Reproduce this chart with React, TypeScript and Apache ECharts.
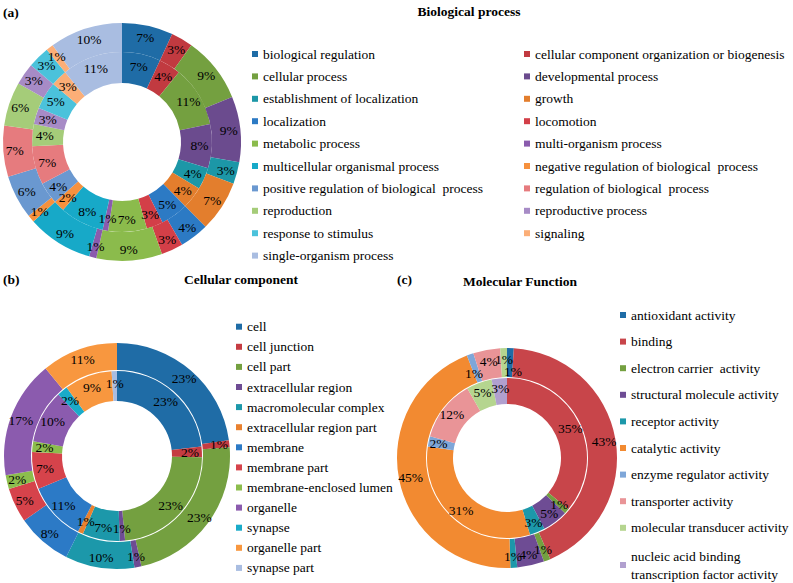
import React, { useEffect, useRef } from "react";
import * as echarts from "echarts";

const bpNames = [
  "biological regulation",
  "cellular component organization or biogenesis",
  "cellular process",
  "developmental process",
  "establishment of localization",
  "growth",
  "localization",
  "locomotion",
  "metabolic process",
  "multi-organism process",
  "multicellular organismal process",
  "negative regulation of biological  process",
  "positive regulation of biological  process",
  "regulation of biological  process",
  "reproduction",
  "reproductive process",
  "response to stimulus",
  "signaling",
  "single-organism process",
];
const bpOuter = [7, 3, 9, 9, 3, 7, 4, 3, 9, 1, 9, 1, 6, 7, 6, 3, 3, 1, 10];
const bpInner = [7, 4, 11, 8, 4, 4, 5, 3, 7, 1, 8, 2, 4, 7, 4, 3, 5, 3, 11];
const bpColors = [
  "#1f6ca6", "#c13a40", "#74a040", "#6b4b8e", "#1c97a7", "#e37e2d", "#2c7ac4",
  "#d33f48", "#8bbb4c", "#8a5bad", "#17a9c8", "#f6913e", "#6a98d0", "#e67b7e",
  "#a5cc79", "#a78bc6", "#4bc2db", "#fbae77", "#a9bde1",
];

const ccNames = [
  "cell",
  "cell junction",
  "cell part",
  "extracellular region",
  "macromolecular complex",
  "extracellular region part",
  "membrane",
  "membrane part",
  "membrane-enclosed lumen",
  "organelle",
  "synapse",
  "organelle part",
  "synapse part",
];
const ccOuter = [23, 1, 23, 1, 10, 0, 8, 5, 2, 17, 0, 11, 0];
const ccInner = [23, 2, 23, 1, 7, 1, 11, 7, 2, 10, 2, 9, 1];
const ccColors = [
  "#1f6ca6", "#c53c42", "#74a040", "#6e4c94", "#1c98aa", "#e9812f", "#2c7ac6",
  "#d6434b", "#8cbd4d", "#8b5bae", "#1aabc9", "#f8973f", "#a9bde1",
];

const mfNames = [
  "antioxidant activity",
  "binding",
  "electron carrier  activity",
  "structural molecule activity",
  "receptor activity",
  "catalytic activity",
  "enzyme regulator activity",
  "transporter activity",
  "molecular transducer activity",
  "nucleic acid binding transcription factor activity",
];
const mfOuter = [1, 43, 1, 4, 1, 45, 1, 4, 1, 0];
const mfInner = [0, 35, 1, 5, 3, 31, 2, 12, 5, 3];
const mfColors = [
  "#1f6ca6", "#c8454a", "#74a040", "#6e4c94", "#1c98aa", "#f28a31", "#7ea6d8",
  "#e99497", "#b5d58f", "#b1a0cf",
];

const FONT = "Liberation Serif";

function buildData(
  names: string[],
  values: number[],
  colors: string[],
  offsets: Record<number, number[]> = {}
) {
  return names.map((n, i) => {
    const item: any = { name: n, value: values[i], itemStyle: { color: colors[i] } };
    if (offsets[i]) item.label = { offset: offsets[i] };
    return item;
  });
}

function pieSeries(
  names: string[],
  values: number[],
  colors: string[],
  center: number[],
  radius: number[],
  offsets: Record<number, number[]> = {}
) {
  return {
    type: "pie",
    center,
    radius,
    startAngle: 90,
    clockwise: true,
    avoidLabelOverlap: false,
    selectedMode: false,
    silent: true,
    minShowLabelAngle: 0,
    labelLayout: { hideOverlap: false },
    label: {
      show: true,
      position: "inside",
      color: "#000",
      fontFamily: FONT,
      fontSize: 13.5,
      overflow: "none",
      formatter: (p: any) => (p.value ? p.value + "%" : ""),
    },
    labelLine: { show: false },
    emphasis: { disabled: true },
    data: buildData(names, values, colors, offsets),
  };
}

const legendText = { fontFamily: FONT, fontSize: 13.5, color: "#000", lineHeight: 16 };

function txt(text: string, x: number, y: number, align: string) {
  return {
    type: "text",
    x,
    y,
    style: {
      text,
      fontFamily: FONT,
      fontSize: 13.5,
      fontWeight: "bold",
      fill: "#000",
      textAlign: align,
      textVerticalAlign: "middle",
      align,
      verticalAlign: "middle",
    },
  };
}

function legendBase(left: number, top: number, gap: number) {
  return {
    orient: "vertical",
    left,
    top,
    padding: 0,
    itemWidth: 6,
    itemHeight: 6,
    itemGap: gap,
    icon: "rect",
    selectedMode: false,
    textStyle: legendText,
  };
}

export default function App() {
  const ref = useRef<HTMLDivElement>(null);
  useEffect(() => {
    document.body.style.margin = "0";
    const chart = echarts.init(ref.current!, null, { renderer: "svg" });
    const option = {
      animation: false,
      backgroundColor: "#ffffff",
      graphic: [
        txt("(a)", 3, 12, "left"),
        txt("Biological process", 469, 11, "center"),
        txt("(b)", 3, 279, "left"),
        txt("Cellular component", 241, 279, "center"),
        txt("(c)", 397, 279, "left"),
        txt("Molecular Function", 520, 281, "center"),
      ],
      legend: [
        { ...legendBase(252, 46, 6.4), data: bpNames.filter((_, i) => i % 2 === 0) },
        { ...legendBase(524, 46, 6.4), data: bpNames.filter((_, i) => i % 2 === 1) },
        { ...legendBase(236, 318.7, 4.1), data: ccNames },
        { ...legendBase(620, 307, 10.6), data: mfNames.slice(0, 9) },
        {
          ...legendBase(620, 547, 0),
          textStyle: { ...legendText, lineHeight: 18 },
          formatter: () => "nucleic acid binding\ntranscription factor activity",
          data: [mfNames[9]],
        },
      ],
      series: [
        pieSeries(bpNames, bpInner, bpColors, [122, 142], [59, 90]),
        pieSeries(bpNames, bpOuter, bpColors, [122, 142], [90, 119]),
        pieSeries(ccNames, ccInner, ccColors, [117, 456], [55, 85]),
        pieSeries(ccNames, ccOuter, ccColors, [117, 456], [86, 113]),
        pieSeries(mfNames, mfInner, mfColors, [507, 458], [54, 80]),
        pieSeries(mfNames, mfOuter, mfColors, [507, 458], [81, 110], {
          0: [3, 12],
          6: [0, 8],
        }),
      ],
    };
    chart.setOption(option as any);
    return () => chart.dispose();
  }, []);
  return (
    <div
      ref={ref}
      style={{ position: "fixed", left: 0, top: 0, width: 793, height: 583, background: "#fff" }}
    />
  );
}
